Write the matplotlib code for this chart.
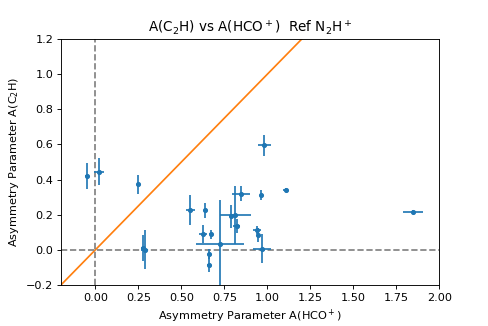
import matplotlib
matplotlib.use("Agg")
import matplotlib.pyplot as plt
import numpy as np

a_hco = [-0.05, 0.02, 0.25, 0.275, 0.287, 0.552, 0.983, 0.64, 0.626, 0.673, 0.663, 0.66,
         0.725, 0.79, 0.813, 0.822, 0.847, 0.963, 1.108, 0.94, 0.948, 0.968, 1.848]
a_c2h = [0.42, 0.445, 0.372, 0.01, 0.0, 0.225, 0.595, 0.225, 0.089, 0.089, -0.024, -0.085,
         0.034, 0.19, 0.198, 0.136, 0.32, 0.31, 0.34, 0.113, 0.085, 0.006, 0.215]
x_err = [0.008, 0.03, 0.008, 0.008, 0.02, 0.025, 0.037, 0.008, 0.022, 0.012, 0.008, 0.008,
         0.14, 0.012, 0.09, 0.02, 0.05, 0.008, 0.015, 0.026, 0.01, 0.053, 0.058]
y_err = [0.075, 0.078, 0.054, 0.074, 0.11, 0.085, 0.059, 0.043, 0.05, 0.025, 0.026, 0.044,
         0.25, 0.065, 0.165, 0.04, 0.043, 0.028, 0.012, 0.022, 0.04, 0.083, 0.01]

fig, ax = plt.subplots(figsize=(6.0, 4.008), dpi=81.34)
fig.subplots_adjust(left=0.125, right=0.9, top=0.88, bottom=0.126)
ax.axline((0, 0), slope=1, color='C1', lw=1.5)
ax.axvline(0, color='gray', ls='--')
ax.axhline(0, color='gray', ls='--')
ax.errorbar(a_hco, a_c2h, xerr=x_err, yerr=y_err, fmt='o', color='C0',
            markersize=3.5, elinewidth=1.5)
ax.set_xlim(-0.2, 2.0)
ax.set_ylim(-0.2, 1.2)
ax.set_title(r'A(C$_2$H) vs A(HCO$^+$)  Ref N$_2$H$^+$')
ax.set_xlabel(r'Asymmetry Parameter A(HCO$^+$)')
ax.set_ylabel(r'Asymmetry Parameter A(C$_2$H)')
fig.savefig('out.png', dpi=81.34)
